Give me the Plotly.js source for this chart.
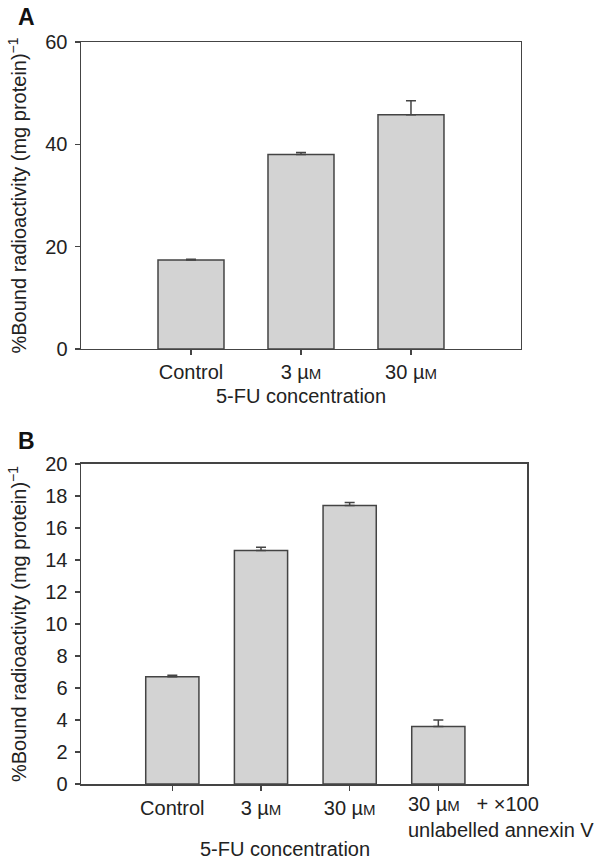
<!DOCTYPE html>
<html>
<head>
<meta charset="utf-8">
<script src="https://cdn.plot.ly/plotly-3.0.1.min.js"></script>
<style>html,body{margin:0;padding:0;background:#fff;}#chart{width:600px;height:860px;}</style>
</head>
<body>
<div id="chart"></div>
<script>
// Panel A data
const categoriesA = ['Control', '3 µM', '30 µM'];
const valuesA = [17.4, 38.0, 45.8];
const errorsA = [0.15, 0.4, 2.7];
const yTicksA = [0, 20, 40, 60];

// Panel B data
const categoriesB = ['Control', '3 µM', '30 µM', '30 µM'];
const valuesB = [6.7, 14.6, 17.4, 3.6];
const errorsB = [0.1, 0.2, 0.2, 0.4];
const yTicksB = [0, 2, 4, 6, 8, 10, 12, 14, 16, 18, 20];
const extraLabelB = ['+ ×100', 'unlabelled annexin V'];

const yTitle = '%Bound radioactivity (mg protein)<sup>−1</sup>';
const xTitle = '5-FU concentration';

const FONT = 'Liberation Sans, Arial, Helvetica, sans-serif';
const FS = 20;
const TXT = '#222';
const LINE = '#444';

function fmt(c) {
  return c.replace('µM', 'µ<span style="font-size:15px">M</span>');
}

const idxA = categoriesA.map((_, i) => i);
const idxB = categoriesB.map((_, i) => i);
// last category label is drawn as a two-line left-aligned annotation
const tickTextB = categoriesB.map((c, i) => i === categoriesB.length - 1 ? '' : fmt(c));
const lastLabelB = fmt(categoriesB[categoriesB.length - 1]) + '\u00a0\u00a0\u00a0' + extraLabelB[0] + '<br>' + extraLabelB[1];

const barStyle = {
  type: 'bar',
  width: 0.6,
  marker: {color: '#d3d3d3', line: {color: LINE, width: 1.5}},
  showlegend: false,
  hoverinfo: 'y'
};

const traceA = Object.assign({}, barStyle, {
  x: idxA, y: valuesA, xaxis: 'x', yaxis: 'y',
  error_y: {type: 'data', array: errorsA, symmetric: false, arrayminus: errorsA.map(() => 0), color: LINE, thickness: 1.5, width: 5}
});
const traceB = Object.assign({}, barStyle, {
  x: idxB, y: valuesB, xaxis: 'x2', yaxis: 'y2',
  error_y: {type: 'data', array: errorsB, symmetric: false, arrayminus: errorsB.map(() => 0), color: LINE, thickness: 1.5, width: 5}
});

const axisCommon = {
  showline: true, mirror: true, linecolor: LINE, linewidth: 1.5,
  ticks: 'outside', ticklen: 5, tickwidth: 1.5, tickcolor: LINE,
  showgrid: false, zeroline: false, fixedrange: true,
  tickfont: {family: FONT, size: FS, color: TXT}
};

const layout = {
  width: 600, height: 860,
  margin: {l: 81, r: 73, t: 42, b: 76},
  paper_bgcolor: '#fff', plot_bgcolor: '#fff',
  font: {family: FONT, size: FS, color: TXT},
  xaxis: Object.assign({}, axisCommon, {
    domain: [0, 0.9865], anchor: 'y', range: [-1, 3],
    tickmode: 'array', tickvals: idxA, ticktext: categoriesA.map(fmt)
  }),
  yaxis: Object.assign({}, axisCommon, {
    domain: [0.5863, 1], anchor: 'x', range: [0, 60],
    tickmode: 'array', tickvals: yTicksA, ticklabelstandoff: 3,
    title: {text: yTitle, font: {family: FONT, size: FS, color: TXT}, standoff: 13}
  }),
  xaxis2: Object.assign({}, axisCommon, {
    domain: [0, 1], anchor: 'y2', range: [-1.03, 4],
    tickmode: 'array', tickvals: idxB, ticktext: tickTextB
  }),
  yaxis2: Object.assign({}, axisCommon, {
    domain: [0, 0.4313], anchor: 'x2', range: [0, 20],
    tickmode: 'array', tickvals: yTicksB, ticklabelstandoff: 3,
    title: {text: yTitle, font: {family: FONT, size: FS, color: TXT}, standoff: 13}
  }),
  annotations: [
    {text: '<b>A</b>', xref: 'paper', yref: 'paper', x: -0.145, y: 1.034, xanchor: 'left', yanchor: 'middle', showarrow: false, font: {family: FONT, size: 23, color: '#111'}},
    {text: '<b>B</b>', xref: 'paper', yref: 'paper', x: -0.145, y: 0.4616, xanchor: 'left', yanchor: 'middle', showarrow: false, font: {family: FONT, size: 23, color: '#111'}},
    {text: xTitle, xref: 'x', yref: 'y', x: 1.0, y: 0, yshift: -47, xanchor: 'center', yanchor: 'middle', showarrow: false, font: {family: FONT, size: FS, color: TXT}},
    {text: xTitle, xref: 'x2', yref: 'y2', x: 1.27, y: 0, yshift: -65, xanchor: 'center', yanchor: 'middle', showarrow: false, font: {family: FONT, size: FS, color: TXT}},
    {text: lastLabelB, xref: 'x2', yref: 'y2', x: 3, y: 0, xshift: -32, yshift: -7, xanchor: 'left', yanchor: 'top', align: 'left', showarrow: false, font: {family: FONT, size: FS, color: TXT}}
  ]
};

Plotly.newPlot('chart', [traceA, traceB], layout, {displayModeBar: false, staticPlot: true});
</script>
</body>
</html>
